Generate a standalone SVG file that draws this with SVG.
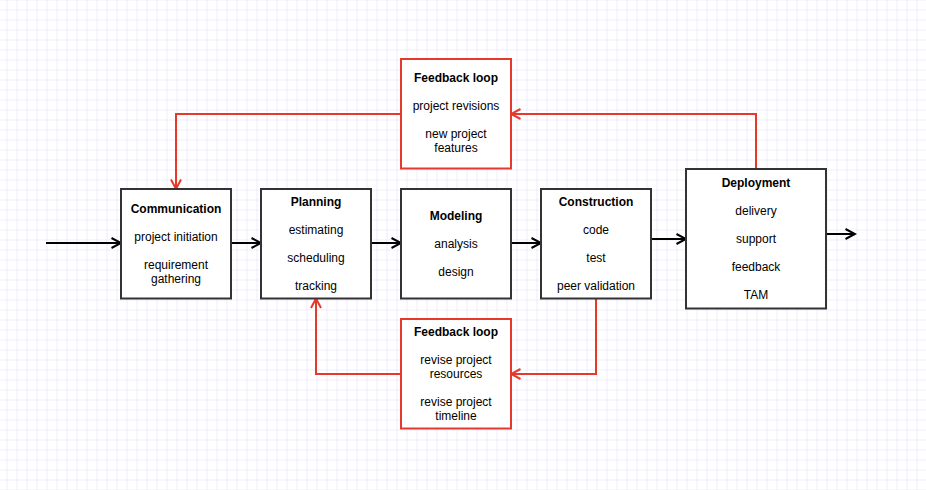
<svg xmlns="http://www.w3.org/2000/svg" width="926" height="490" viewBox="0 0 926 490">
<defs>
<pattern id="grid" x="6.5" y="9.5" width="10" height="10" patternUnits="userSpaceOnUse">
<path d="M0,0 L10,0 M0,0 L0,10" fill="none" stroke="#e4e0f8" stroke-width="1.2"/>
</pattern>
<marker id="arrB" viewBox="-1 -6 12 12" refX="9.5" refY="0" markerWidth="12" markerHeight="12" markerUnits="userSpaceOnUse" orient="auto">
<path d="M0,-5 L9.5,0 L0,5" fill="none" stroke="#000" stroke-width="2"/>
</marker>
<marker id="arrR" viewBox="-1 -6 12 12" refX="9.5" refY="0" markerWidth="12" markerHeight="12" markerUnits="userSpaceOnUse" orient="auto">
<path d="M0,-5 L9.5,0 L0,5" fill="none" stroke="#e5392b" stroke-width="2"/>
</marker>
<style>
.box{fill:#fff;stroke:#333;stroke-width:2}
.fb{fill:#fff;stroke:#e5392b;stroke-width:2}
text{font-family:"Liberation Sans",Arial,Helvetica,sans-serif;font-size:12px;fill:#000;text-anchor:middle}
.t{font-weight:bold}
.cb{fill:none;stroke:#000;stroke-width:2;marker-end:url(#arrB)}
.cr{fill:none;stroke:#e5392b;stroke-width:2;marker-end:url(#arrR)}
</style>
</defs>
<rect width="926" height="490" fill="#fff"/>
<rect width="926" height="490" fill="url(#grid)"/>

<g id="connectors">
<path class="cb" d="M46,243 L121,243"/>
<path class="cb" d="M231,243 L261,243"/>
<path class="cb" d="M371,243 L401,243"/>
<path class="cb" d="M511,243 L541,243"/>
<path class="cb" d="M651,239 L686,239"/>
<path class="cb" d="M826,234 L855,234"/>
<path class="cr" d="M756,169 L756,114 L511,114"/>
<path class="cr" d="M401,114 L176,114 L176,189"/>
<path class="cr" d="M596,298.5 L596,374 L511,374"/>
<path class="cr" d="M401,374 L316,374 L316,298.5"/>
</g>

<g id="communication">
<rect class="box" x="121" y="189" width="110" height="109.5"/>
<text class="t" x="176" y="213">Communication</text>
<text x="176" y="241">project initiation</text>
<text x="176" y="269">requirement</text>
<text x="176" y="283">gathering</text>
</g>

<g id="planning">
<rect class="box" x="261" y="189" width="110" height="109.5"/>
<text class="t" x="316" y="206">Planning</text>
<text x="316" y="234">estimating</text>
<text x="316" y="262">scheduling</text>
<text x="316" y="290">tracking</text>
</g>

<g id="modeling">
<rect class="box" x="401" y="189" width="110" height="109.5"/>
<text class="t" x="456" y="220">Modeling</text>
<text x="456" y="248">analysis</text>
<text x="456" y="276">design</text>
</g>

<g id="construction">
<rect class="box" x="541" y="189" width="110" height="109.5"/>
<text class="t" x="596" y="206">Construction</text>
<text x="596" y="234">code</text>
<text x="596" y="262">test</text>
<text x="596" y="290">peer validation</text>
</g>

<g id="deployment">
<rect class="box" x="686" y="169" width="140" height="139.5"/>
<text class="t" x="756" y="187">Deployment</text>
<text x="756" y="215">delivery</text>
<text x="756" y="243">support</text>
<text x="756" y="271">feedback</text>
<text x="756" y="299">TAM</text>
</g>

<g id="feedback-top">
<rect class="fb" x="401" y="59" width="110" height="109.5"/>
<text class="t" x="456" y="82">Feedback loop</text>
<text x="456" y="110">project revisions</text>
<text x="456" y="138">new project</text>
<text x="456" y="152">features</text>
</g>

<g id="feedback-bottom">
<rect class="fb" x="401" y="319" width="110" height="109.5"/>
<text class="t" x="456" y="336">Feedback loop</text>
<text x="456" y="364">revise project</text>
<text x="456" y="378">resources</text>
<text x="456" y="406">revise project</text>
<text x="456" y="420">timeline</text>
</g>
</svg>
